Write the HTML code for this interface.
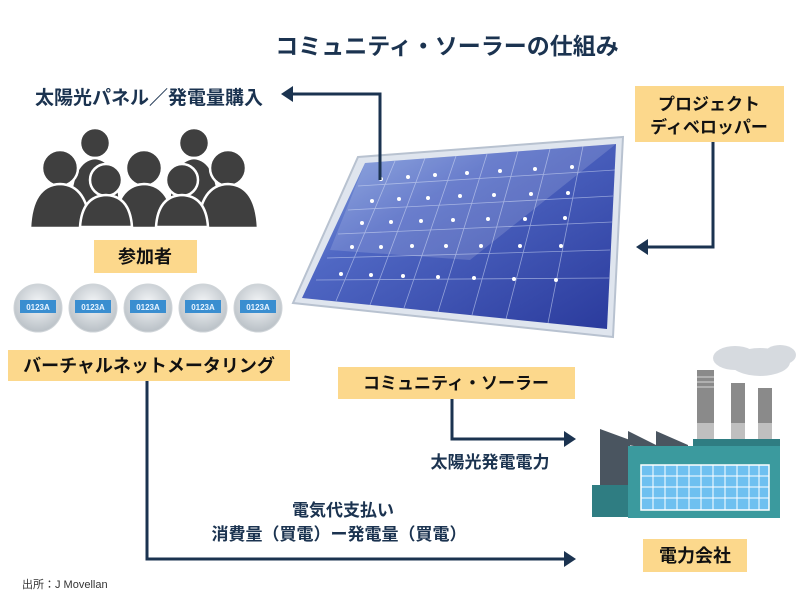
<!DOCTYPE html>
<html><head><meta charset="utf-8"><style>
html,body{margin:0;padding:0;background:#fff;}
svg{display:block;}
text{font-family:"Liberation Sans","Noto Sans CJK JP",sans-serif;font-weight:bold;}
</style></head><body>
<svg width="800" height="600" viewBox="0 0 800 600" xmlns="http://www.w3.org/2000/svg">
<defs>
<linearGradient id="pan" x1="0" y1="0" x2="1" y2="1">
<stop offset="0" stop-color="#8aa6e0"/><stop offset="0.35" stop-color="#5068c4"/><stop offset="1" stop-color="#2a3a9c"/>
</linearGradient>
<radialGradient id="met" cx="0.5" cy="0.4" r="0.6">
<stop offset="0" stop-color="#f4f6f8"/><stop offset="1" stop-color="#b9c0c6"/>
</radialGradient>
</defs>
<rect width="800" height="600" fill="#fff"/>
<text x="447" y="54" font-size="23" fill="#1b3350" text-anchor="middle">コミュニティ・ソーラーの仕組み</text>

<!-- solar panel -->
<polygon points="358,157 623,137 613,337 293,303" fill="#dfe5ee" stroke="#b8c2d0" stroke-width="2"/>
<polygon points="365,163 616,144 607,329 302,298" fill="url(#pan)"/>
<g stroke="#c9d4f2" stroke-width="0.8" opacity="0.6">
<line x1="395" y1="161" x2="336" y2="301"/><line x1="425" y1="158" x2="370" y2="305"/><line x1="456" y1="156" x2="404" y2="308"/><line x1="487" y1="154" x2="438" y2="312"/><line x1="518" y1="151" x2="472" y2="315"/><line x1="550" y1="149" x2="506" y2="319"/><line x1="583" y1="146" x2="548" y2="323"/>
<line x1="358" y1="186" x2="615" y2="170"/><line x1="348" y1="210" x2="613" y2="196"/><line x1="338" y1="234" x2="612" y2="222"/><line x1="327" y1="258" x2="610" y2="250"/><line x1="316" y1="280" x2="609" y2="278"/>
</g>
<polygon points="365,163 616,144 470,260 330,250" fill="#ffffff" opacity="0.15"/>
<g fill="#fff">
<circle cx="381" cy="179" r="2"/><circle cx="408" cy="177" r="2"/><circle cx="435" cy="175" r="2"/><circle cx="467" cy="173" r="2"/><circle cx="500" cy="171" r="2"/><circle cx="535" cy="169" r="2"/><circle cx="572" cy="167" r="2"/>
<circle cx="372" cy="201" r="2"/><circle cx="399" cy="199" r="2"/><circle cx="428" cy="198" r="2"/><circle cx="460" cy="196" r="2"/><circle cx="494" cy="195" r="2"/><circle cx="531" cy="194" r="2"/><circle cx="568" cy="193" r="2"/>
<circle cx="362" cy="223" r="2"/><circle cx="391" cy="222" r="2"/><circle cx="421" cy="221" r="2"/><circle cx="453" cy="220" r="2"/><circle cx="488" cy="219" r="2"/><circle cx="525" cy="219" r="2"/><circle cx="565" cy="218" r="2"/>
<circle cx="352" cy="247" r="2"/><circle cx="381" cy="247" r="2"/><circle cx="412" cy="246" r="2"/><circle cx="446" cy="246" r="2"/><circle cx="481" cy="246" r="2"/><circle cx="520" cy="246" r="2"/><circle cx="561" cy="246" r="2"/>
<circle cx="341" cy="274" r="2"/><circle cx="371" cy="275" r="2"/><circle cx="403" cy="276" r="2"/><circle cx="438" cy="277" r="2"/><circle cx="474" cy="278" r="2"/><circle cx="514" cy="279" r="2"/><circle cx="556" cy="280" r="2"/>
</g>

<!-- top-left arrow -->
<text x="35" y="104" font-size="19" fill="#1b3350">太陽光パネル／発電量購入</text>
<polyline points="380,180 380,94 292,94" fill="none" stroke="#1b3350" stroke-width="3"/>
<polygon points="281,94 293,86 293,102" fill="#1b3350"/>

<!-- developer -->
<rect x="635" y="86" width="149" height="56" fill="#fcd88c"/>
<text x="709" y="110" font-size="17" fill="#111" text-anchor="middle">プロジェクト</text>
<text x="709" y="133" font-size="17" fill="#111" text-anchor="middle">ディベロッパー</text>
<polyline points="713,142 713,247 647,247" fill="none" stroke="#1b3350" stroke-width="3"/>
<polygon points="636,247 648,239 648,255" fill="#1b3350"/>

<!-- people -->
<g fill="#3f3f3f" stroke="#fff" stroke-width="2.5">
<circle cx="95" cy="143" r="15"/><path d="M70,205 Q72,160 95,158 Q118,160 120,205Z"/>
<circle cx="194" cy="143" r="15"/><path d="M169,205 Q171,160 194,158 Q217,160 219,205Z"/>
<circle cx="60" cy="168" r="18"/><path d="M30,228 Q32,185 60,184 Q88,185 90,228Z"/>
<circle cx="144" cy="168" r="18"/><path d="M114,228 Q116,185 144,184 Q172,185 174,228Z"/>
<circle cx="228" cy="168" r="18"/><path d="M198,228 Q200,185 228,184 Q256,185 258,228Z"/>
<circle cx="106" cy="180" r="16"/><path d="M80,227 Q82,196 106,195 Q130,196 132,227Z"/>
<circle cx="182" cy="180" r="16"/><path d="M156,227 Q158,196 182,195 Q206,196 208,227Z"/>
</g>
<rect x="94" y="240" width="103" height="33" fill="#fcd88c"/>
<text x="145" y="263" font-size="18" fill="#111" text-anchor="middle">参加者</text>

<!-- meters -->
<g>
<circle cx="38" cy="308" r="24" fill="url(#met)" stroke="#cfd4d8"/><rect x="20" y="300" width="36" height="13" fill="#3a8ed0"/><text x="38" y="310" font-size="8" fill="#e8f4ff" text-anchor="middle">0123A</text>
<circle cx="93" cy="308" r="24" fill="url(#met)" stroke="#cfd4d8"/><rect x="75" y="300" width="36" height="13" fill="#3a8ed0"/><text x="93" y="310" font-size="8" fill="#e8f4ff" text-anchor="middle">0123A</text>
<circle cx="148" cy="308" r="24" fill="url(#met)" stroke="#cfd4d8"/><rect x="130" y="300" width="36" height="13" fill="#3a8ed0"/><text x="148" y="310" font-size="8" fill="#e8f4ff" text-anchor="middle">0123A</text>
<circle cx="203" cy="308" r="24" fill="url(#met)" stroke="#cfd4d8"/><rect x="185" y="300" width="36" height="13" fill="#3a8ed0"/><text x="203" y="310" font-size="8" fill="#e8f4ff" text-anchor="middle">0123A</text>
<circle cx="258" cy="308" r="24" fill="url(#met)" stroke="#cfd4d8"/><rect x="240" y="300" width="36" height="13" fill="#3a8ed0"/><text x="258" y="310" font-size="8" fill="#e8f4ff" text-anchor="middle">0123A</text>
</g>
<rect x="8" y="350" width="282" height="31" fill="#fcd88c"/>
<text x="149" y="372" font-size="18" fill="#111" text-anchor="middle">バーチャルネットメータリング</text>

<!-- bottom arrow -->
<polyline points="147,381 147,559 564,559" fill="none" stroke="#1b3350" stroke-width="3"/>
<polygon points="576,559 564,551 564,567" fill="#1b3350"/>
<text x="343" y="516" font-size="17" fill="#1b3350" text-anchor="middle">電気代支払い</text>
<text x="339" y="540" font-size="17" fill="#1b3350" text-anchor="middle">消費量（買電）ー発電量（買電）</text>

<!-- community solar -->
<rect x="338" y="367" width="237" height="32" fill="#fcd88c"/>
<text x="456" y="389" font-size="17" fill="#111" text-anchor="middle">コミュニティ・ソーラー</text>
<polyline points="452,399 452,439 564,439" fill="none" stroke="#1b3350" stroke-width="3"/>
<polygon points="576,439 564,431 564,447" fill="#1b3350"/>
<text x="490" y="468" font-size="17" fill="#1b3350" text-anchor="middle">太陽光発電電力</text>

<!-- factory -->
<ellipse cx="760" cy="362" rx="30" ry="14" fill="#d6dadf"/>
<ellipse cx="735" cy="358" rx="22" ry="12" fill="#d6dadf"/>
<ellipse cx="780" cy="355" rx="16" ry="10" fill="#d6dadf"/>
<rect x="697" y="370" width="17" height="70" fill="#8a8a8a"/><rect x="697" y="423" width="17" height="17" fill="#bfbfbf"/>
<g fill="#b0b0b0"><rect x="697" y="376" width="17" height="2"/><rect x="697" y="381" width="17" height="2"/><rect x="697" y="386" width="17" height="2"/></g>
<rect x="731" y="383" width="14" height="57" fill="#8a8a8a"/><rect x="731" y="423" width="14" height="17" fill="#bfbfbf"/>
<rect x="758" y="388" width="14" height="52" fill="#8a8a8a"/><rect x="758" y="423" width="14" height="17" fill="#bfbfbf"/>
<polygon points="600,429 600,495 630,495 630,440" fill="#4a5560"/>
<polygon points="628,431 628,445 656,450 656,445" fill="#4a5560"/>
<polygon points="656,431 656,450 688,450 688,445" fill="#4a5560"/>
<rect x="592" y="485" width="40" height="32" fill="#2f7d82"/>
<rect x="693" y="439" width="87" height="12" fill="#2f7d82"/>
<rect x="628" y="446" width="152" height="72" fill="#3b9a9e"/>
<rect x="641" y="465" width="128" height="45" fill="#6ec0f0" stroke="#fff" stroke-width="1.5"/>
<g stroke="#fff" stroke-width="1">
<line x1="641" y1="476" x2="769" y2="476"/><line x1="641" y1="487" x2="769" y2="487"/><line x1="641" y1="498" x2="769" y2="498"/>
<line x1="653" y1="465" x2="653" y2="510"/><line x1="665" y1="465" x2="665" y2="510"/><line x1="677" y1="465" x2="677" y2="510"/><line x1="689" y1="465" x2="689" y2="510"/><line x1="701" y1="465" x2="701" y2="510"/><line x1="713" y1="465" x2="713" y2="510"/><line x1="725" y1="465" x2="725" y2="510"/><line x1="737" y1="465" x2="737" y2="510"/><line x1="749" y1="465" x2="749" y2="510"/><line x1="759" y1="465" x2="759" y2="510"/>
</g>
<rect x="643" y="539" width="104" height="33" fill="#fcd88c"/>
<text x="695" y="562" font-size="18" fill="#111" text-anchor="middle">電力会社</text>

<text x="22" y="588" font-size="11" fill="#333" style="font-weight:normal">出所：J Movellan</text>
</svg>
</body></html>
